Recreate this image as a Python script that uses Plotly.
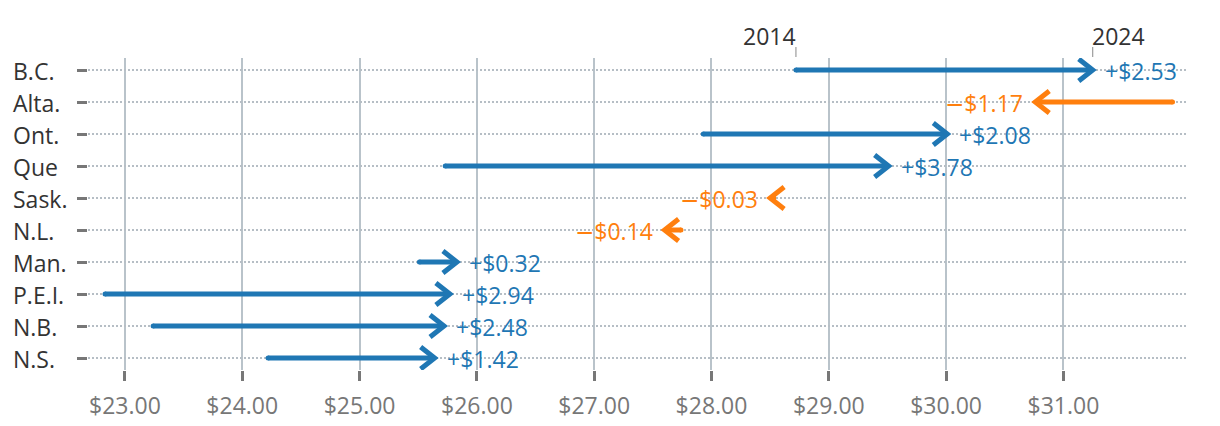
import plotly.graph_objects as go

# ---------------- data ----------------
provinces = ["B.C.", "Alta.", "Ont.", "Que", "Sask.", "N.L.", "Man.", "P.E.I.", "N.B.", "N.S."]
wage_2014 = [28.72, 31.93, 27.93, 25.73, 28.53, 27.74, 25.51, 22.83, 23.24, 24.22]
wage_2024 = [31.25, 30.76, 30.01, 29.51, 28.50, 27.60, 25.83, 25.77, 25.72, 25.64]
x_tick_values = [23, 24, 25, 26, 27, 28, 29, 30, 31]
x_tick_labels = ["$23.00", "$24.00", "$25.00", "$26.00", "$27.00", "$28.00", "$29.00", "$30.00", "$31.00"]
year_labels = ["2014", "2024"]

# ---------------- style ----------------
BLUE = "#1f77b4"
ORANGE = "#ff7f0e"
FONT = "Open Sans"
FS = 23
W, H = 1220, 426
M_L, M_R, M_T, M_B = 88, 34, 58, 56
X_RANGE = [22.685, 32.045]
Y_RANGE = [len(provinces) - 1 + 0.375, -0.375]

plot_w = W - M_L - M_R
plot_h = H - M_T - M_B
px_per_x = plot_w / (X_RANGE[1] - X_RANGE[0])
px_per_y = plot_h / (Y_RANGE[0] - Y_RANGE[1])
head_dx = 14 / px_per_x
head_dy = 11 / px_per_y

fig = go.Figure()
annotations = []

for i, (name, a, b) in enumerate(zip(provinces, wage_2014, wage_2024)):
    d = round(b - a, 2)
    col = BLUE if d >= 0 else ORANGE
    s = 1 if d >= 0 else -1
    # shaft
    fig.add_trace(go.Scatter(
        x=[a, b], y=[i, i], mode="lines",
        line=dict(color=col, width=5), hoverinfo="skip", showlegend=False))
    # rounded tail
    fig.add_trace(go.Scatter(
        x=[a], y=[i], mode="markers",
        marker=dict(color=col, size=5, line=dict(width=0)),
        hoverinfo="skip", showlegend=False))
    # chevron head
    fig.add_trace(go.Scatter(
        x=[b - s * head_dx, b, b - s * head_dx], y=[i - head_dy, i, i + head_dy],
        mode="lines", line=dict(color=col, width=5),
        hoverinfo="skip", showlegend=False))
    sign = "+" if d >= 0 else "<span style=\"font-family:'DejaVu Sans'\">\u2212</span>"
    label = sign + "$" + f"{abs(d):.2f}"
    annotations.append(dict(
        x=b, y=i, xref="x", yref="y", text=label, showarrow=False,
        xanchor="left" if d >= 0 else "right", yanchor="middle",
        xshift=10 * s, yshift=-1,
        font=dict(family=FONT, size=FS, color=col)))
    # province label, left aligned
    annotations.append(dict(
        x=(11 - M_L) / plot_w, y=i, xref="paper", yref="y",
        text=name, showarrow=False, xanchor="left", yanchor="middle", yshift=-1,
        font=dict(family=FONT, size=FS, color="#333333")))

# year markers above the first row
shapes = []
for yr, xv, anchor in zip(year_labels, [wage_2014[0], wage_2024[0]], ["right", "left"]):
    shapes.append(dict(type="line", xref="x", yref="paper",
                       x0=xv, x1=xv, y0=1 + 1 / plot_h, y1=1 + 11 / plot_h,
                       line=dict(color="#888888", width=1)))
    annotations.append(dict(
        x=xv, y=1 + 22 / plot_h, xref="x", yref="paper", text=yr, showarrow=False,
        xanchor=anchor, yanchor="middle", xshift=2 if anchor == "right" else -3,
        font=dict(family=FONT, size=FS, color="#333333")))

fig.update_layout(
    width=W, height=H,
    margin=dict(l=M_L, r=M_R, t=M_T, b=M_B, autoexpand=False),
    paper_bgcolor="white", plot_bgcolor="white",
    showlegend=False,
    annotations=annotations,
    shapes=shapes,
    font=dict(family=FONT),
)
fig.update_xaxes(
    range=X_RANGE, tickvals=x_tick_values, ticktext=x_tick_labels,
    showgrid=True, gridcolor="#b9c3ca", gridwidth=2,
    ticks="outside", ticklen=10, tickwidth=3, tickcolor="#777777",
    tickfont=dict(family=FONT, size=FS, color="#777777"),
    ticklabelstandoff=5,
    zeroline=False, showline=False, automargin=False,
)
fig.update_yaxes(
    range=Y_RANGE, tickvals=list(range(len(provinces))), ticktext=[""] * len(provinces),
    showgrid=True, gridcolor="#b6bec5", gridwidth=2, griddash="2px,2px",
    ticks="outside", ticklen=10, tickwidth=3, tickcolor="#777777",
    zeroline=False, showline=False, automargin=False,
)

fig.write_html("out.html", config={"displayModeBar": False},
               post_script="document.body.style.margin='0';")
